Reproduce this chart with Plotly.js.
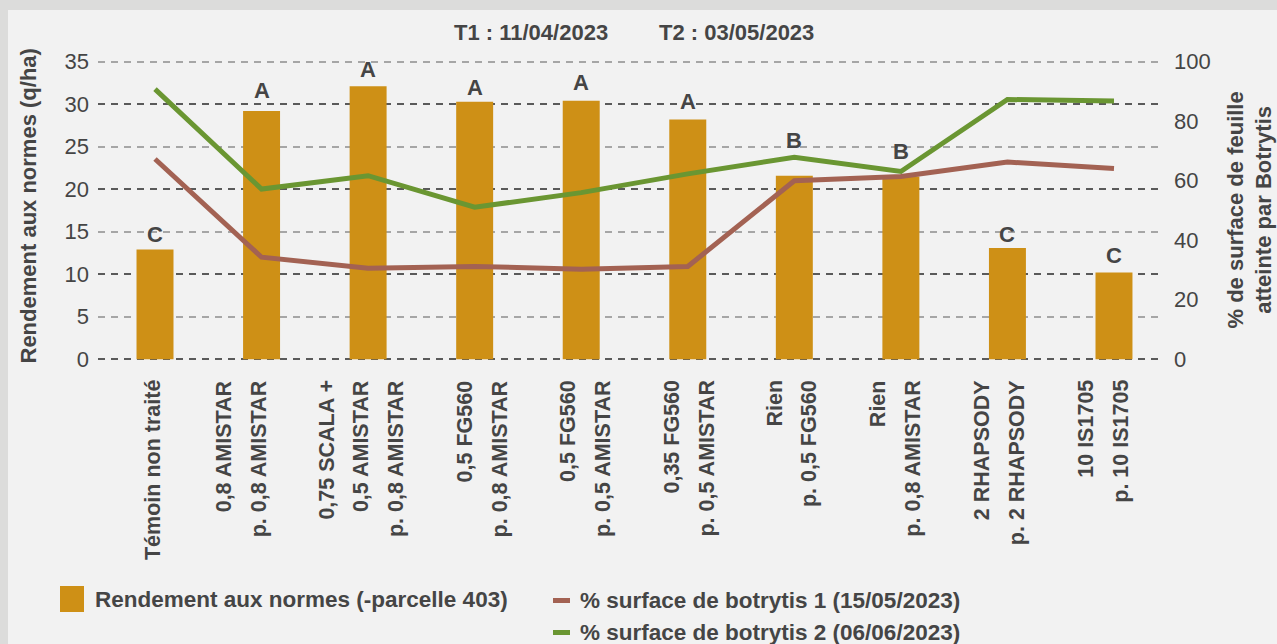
<!DOCTYPE html>
<html><head><meta charset="utf-8">
<script src="https://cdn.plot.ly/plotly-3.0.1.min.js"></script>
<style>
html,body{margin:0;padding:0;background:#dcdcdb;width:1277px;height:644px;overflow:hidden}
#chart{position:absolute;left:8px;top:10px;width:1269px;height:634px}
</style>
</head><body><div id="chart"></div>
<script>
// ---------- data ----------
const categories = [
  "Témoin non traité",
  "0,8 AMISTAR\np. 0,8 AMISTAR",
  "0,75 SCALA +\n0,5 AMISTAR\np. 0,8 AMISTAR",
  "0,5 FG560\np. 0,8 AMISTAR",
  "0,5 FG560\np. 0,5 AMISTAR",
  "0,35 FG560\np. 0,5 AMISTAR",
  "Rien\np. 0,5 FG560",
  "Rien\np. 0,8 AMISTAR",
  "2 RHAPSODY\np. 2 RHAPSODY",
  "10 IS1705\np. 10 IS1705"
];
const rendement = [12.9, 29.2, 32.1, 30.3, 30.4, 28.2, 21.6, 21.5, 13.1, 10.2];
const botrytis1 = [67.3, 34.3, 30.6, 31.2, 30.3, 31.2, 60.0, 61.4, 66.3, 64.1];
const botrytis2 = [90.8, 57.2, 61.7, 51.1, 56.0, 62.3, 67.9, 63.1, 87.3, 86.8];
const groupLetters = ["C", "A", "A", "A", "A", "A", "B", "B", "C", "C"];
const seriesNames = [
  "Rendement aux normes (-parcelle 403)",
  "% surface de botrytis 1 (15/05/2023)",
  "% surface de botrytis 2 (06/06/2023)"
];
const treatmentDates = ["T1 : 11/04/2023", "T2 : 03/05/2023"];
const yTitle = "Rendement aux normes (q/ha)";
const y2Title = "% de surface de feuille<br>atteinte par Botrytis";

// ---------- layout tuning (pixels) ----------
const letterShift = [15, 21, 17, 14, 18, 18, 35, 25, 13, 17];
const labelShift = [-2, -20, -7, 8, 4, 1, -3, -6, -8, -11];
const LINE_GAP = 34.5;
const PAD = 0.2;            // small range padding so edge gridlines are drawn

const FONT = "Liberation Sans, Arial, Helvetica, sans-serif";
const TXT = "#454545";
const BAR = "#CE9016";
const BROWN = "#A36253";
const GREEN = "#6A9632";

const traces = [
  {type: "bar", x: categories, y: rendement, name: seriesNames[0],
   marker: {color: BAR}, yaxis: "y", hoverinfo: "skip"},
  {type: "scatter", mode: "lines", x: categories, y: botrytis1, name: seriesNames[1],
   line: {color: BROWN, width: 5}, yaxis: "y2", hoverinfo: "skip"},
  {type: "scatter", mode: "lines", x: categories, y: botrytis2, name: seriesNames[2],
   line: {color: GREEN, width: 5}, yaxis: "y2", hoverinfo: "skip"},
  {type: "scatter", x: [], y: [], yaxis: "y3", hoverinfo: "skip"},
  {type: "scatter", x: [], y: [], yaxis: "y4", hoverinfo: "skip"}
];

const annotations = [];
groupLetters.forEach((L, i) => {
  annotations.push({xref: "x", yref: "y", x: categories[i], y: rendement[i], text: "<b>" + L + "</b>",
    showarrow: false, xanchor: "center", yanchor: "middle", yshift: letterShift[i],
    font: {family: FONT, size: 22, color: TXT}});
});
categories.forEach((c, i) => {
  const lines = c.split("\n");
  const n = lines.length;
  lines.forEach((ln, j) => {
    annotations.push({xref: "x", yref: "paper", x: c, y: 0, text: "<b>" + ln + "</b>",
      showarrow: false, textangle: -90, xanchor: "center", yanchor: "top",
      xshift: (j - (n - 1) / 2) * LINE_GAP + labelShift[i], yshift: -17,
      font: {family: FONT, size: 21.5, color: TXT}});
  });
});
annotations.push({xref: "paper", yref: "paper", x: 0, y: 0.5, xshift: -70, yshift: 4,
  text: "<b>" + yTitle + "</b>", textangle: -90, showarrow: false,
  xanchor: "center", yanchor: "middle", font: {family: FONT, size: 22, color: TXT}});
annotations.push({xref: "paper", yref: "paper", x: 1, y: 0.5, xshift: 86, yshift: 0,
  text: "<b>" + y2Title + "</b>", textangle: -90, showarrow: false,
  xanchor: "center", yanchor: "middle", font: {family: FONT, size: 22, color: TXT}});
annotations.push({xref: "paper", yref: "paper", x: 0.4066, y: 1, yshift: 28,
  text: "<b>" + treatmentDates[0] + "</b>", showarrow: false, xanchor: "center", yanchor: "middle",
  font: {family: FONT, size: 22, color: TXT}});
annotations.push({xref: "paper", yref: "paper", x: 0.5995, y: 1, yshift: 28,
  text: "<b>" + treatmentDates[1] + "</b>", showarrow: false, xanchor: "center", yanchor: "middle",
  font: {family: FONT, size: 22, color: TXT}});
const legTxt = [
  {dx: -5, dy: -238},
  {dx: 480, dy: -239},
  {dx: 480, dy: -271}
];
seriesNames.forEach((s, i) => {
  annotations.push({xref: "paper", yref: "paper", x: 0, y: 0, xshift: legTxt[i].dx, yshift: legTxt[i].dy,
    text: "<b>" + s + "</b>", showarrow: false, xanchor: "left", yanchor: "middle",
    font: {family: FONT, size: 22.5, color: TXT}});
});

const shapes = [
  {type: "rect", xref: "paper", yref: "paper", xsizemode: "pixel", ysizemode: "pixel",
   xanchor: 0, yanchor: 0, x0: -38, x1: -14, y0: -225, y1: -251,
   fillcolor: BAR, line: {width: 0}},
  {type: "rect", xref: "paper", yref: "paper", xsizemode: "pixel", ysizemode: "pixel",
   xanchor: 0, yanchor: 0, x0: 455, x1: 472, y0: -237, y1: -242,
   fillcolor: BROWN, line: {width: 0}},
  {type: "rect", xref: "paper", yref: "paper", xsizemode: "pixel", ysizemode: "pixel",
   xanchor: 0, yanchor: 0, x0: 455, x1: 472, y0: -269, y1: -274,
   fillcolor: GREEN, line: {width: 0}}
];

const tickFont = {family: FONT, size: 22, color: TXT};
const yRange = [-PAD, 35 + PAD];
const y2Range = [-PAD / 35 * 100, 100 + PAD / 35 * 100];
const layout = {
  width: 1269, height: 634,
  margin: {l: 90, r: 114, t: 50, b: 283, pad: 0},
  paper_bgcolor: "#f2f2f2", plot_bgcolor: "#f2f2f2",
  showlegend: false, bargap: 0.653,
  font: {family: FONT, color: TXT},
  xaxis: {type: "category", range: [-0.535, 9.46], showticklabels: false, showgrid: false,
          zeroline: false, showline: false, ticks: ""},
  yaxis: {range: yRange, dtick: 5, tick0: 0, showgrid: false, zeroline: false, showline: false,
          ticks: "", tickfont: tickFont, ticklabelstandoff: 8},
  yaxis2: {overlaying: "y", side: "right", range: y2Range, dtick: 20, tick0: 0, showgrid: false,
           zeroline: false, showline: false, ticks: "", tickfont: tickFont, ticklabelstandoff: 10},
  yaxis3: {overlaying: "y", range: yRange, tick0: 5, dtick: 10, showticklabels: false, ticks: "",
           showgrid: true, gridcolor: "#a6a6a6", gridwidth: 2, griddash: "7px,6px",
           zeroline: false, showline: false},
  yaxis4: {overlaying: "y", range: yRange, tick0: 0, dtick: 10, showticklabels: false, ticks: "",
           showgrid: true, gridcolor: "#5a5a5a", gridwidth: 2, griddash: "7px,6px",
           zeroline: false, showline: false},
  annotations: annotations,
  shapes: shapes
};

Plotly.newPlot("chart", traces, layout, {staticPlot: true, displayModeBar: false});
</script>
</body></html>
